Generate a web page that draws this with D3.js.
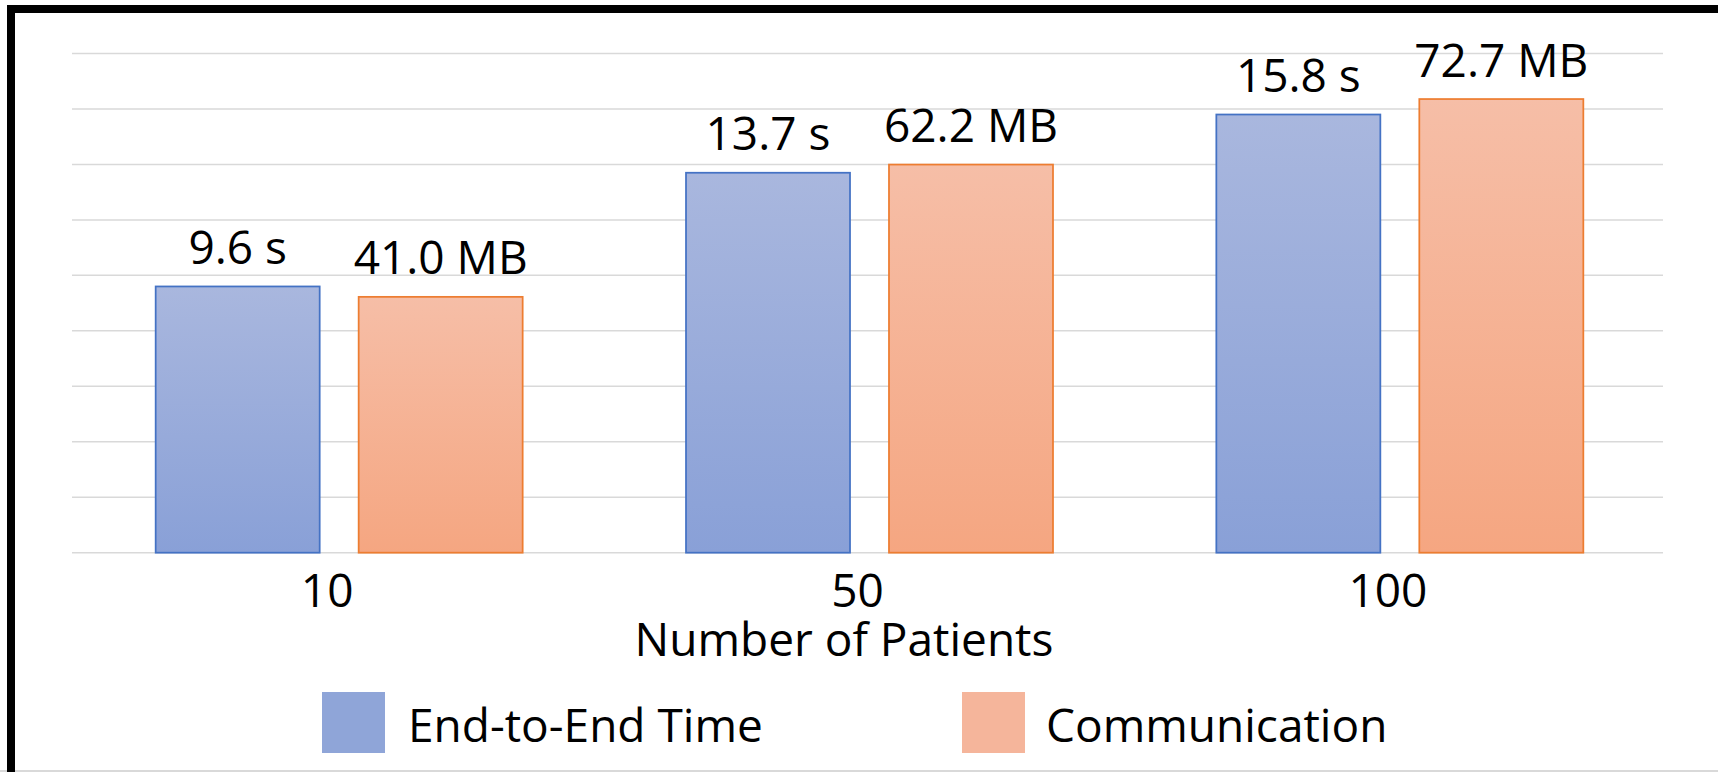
<!DOCTYPE html>
<html>
<head>
<meta charset="utf-8">
<script src="https://cdn.jsdelivr.net/npm/d3@7"></script>
<style>
  body { margin: 0; background: #fff; }
  text { font-family: "Open Sans", "Noto Sans", sans-serif; fill: #000; }
</style>
</head>
<body>
<div id="chart"></div>
<script>
// grouped bars, time on one axis and traffic on a hidden second axis
var categories = ["10", "50", "100"];
var seriesNames = ["End-to-End Time", "Communication"];
var timeValues = [9.6, 13.7, 15.8];     // seconds
var commValues = [41.0, 62.2, 72.7];    // MB
var gridTicks = [0, 2, 4, 6, 8, 10, 12, 14, 16, 18];

var width = 1718,
    height = 772,
    plotLeft = 72,
    plotRight = 1663,
    plotTop = 53.5,
    plotBottom = 552.7;

var svg = d3.select("#chart").append("svg")
    .attr("width", width)
    .attr("height", height);

// gradients, lighter at the top like the office fill
var defs = svg.append("defs");
function gradient(id, top, bottom) {
    var g = defs.append("linearGradient")
        .attr("id", id)
        .attr("x1", 0).attr("y1", 0)
        .attr("x2", 0).attr("y2", 1);
    g.append("stop").attr("offset", "0%").attr("stop-color", top);
    g.append("stop").attr("offset", "100%").attr("stop-color", bottom);
}
gradient("gradBlue", "#a9b7de", "#89a0d7");
gradient("gradOrange", "#f6bea7", "#f5a681");

// bars sit a touch right of the gridline span in the original
var xGroup = d3.scaleBand()
    .domain(categories)
    .range([plotLeft + 2, plotRight + 2])
    .paddingInner(0.308)
    .paddingOuter(0.154);

var xSeries = d3.scaleBand()
    .domain(seriesNames)
    .range([0, xGroup.bandwidth()])
    .paddingInner(0.192);

var yTime = d3.scaleLinear().domain([0, 18]).range([plotBottom, plotTop]);
var yComm = d3.scaleLinear().domain([0, 80]).range([plotBottom, plotTop]);

// gridlines
svg.append("g")
    .selectAll("line")
    .data(gridTicks)
    .enter()
    .append("line")
    .attr("x1", plotLeft)
    .attr("x2", plotRight)
    .attr("y1", d => yTime(d))
    .attr("y2", d => yTime(d))
    .style("stroke", "#d9d9d9")
    .style("stroke-width", 1.5);

var fmt = d3.format(".1f");

var series = [
    { name: seriesNames[0], values: timeValues, y: yTime, fill: "url(#gradBlue)", stroke: "#4472c4", unit: " s" },
    { name: seriesNames[1], values: commValues, y: yComm, fill: "url(#gradOrange)", stroke: "#ed7d31", unit: " MB" }
];

series.forEach(function(s) {
    var g = svg.append("g");

    g.selectAll("rect")
        .data(s.values)
        .enter()
        .append("rect")
        .attr("x", (d, i) => xGroup(categories[i]) + xSeries(s.name))
        .attr("y", d => s.y(d))
        .attr("width", xSeries.bandwidth())
        .attr("height", d => s.y(0) - s.y(d))
        .style("fill", s.fill)
        .style("stroke", s.stroke)
        .style("stroke-width", 1.75);

    g.selectAll("text")
        .data(s.values)
        .enter()
        .append("text")
        .attr("x", (d, i) => xGroup(categories[i]) + xSeries(s.name) + xSeries.bandwidth() / 2)
        .attr("y", d => s.y(d) - 22.5)
        .attr("text-anchor", "middle")
        .style("font-size", "46px")
        .text(d => fmt(d) + s.unit);
});

// category axis
var xAxis = svg.append("g")
    .attr("transform", "translate(-12," + plotBottom + ")")
    .call(d3.axisBottom(xGroup).tickSize(0).tickPadding(22));
xAxis.select(".domain").remove();
xAxis.selectAll("text")
    .style("font-size", "46px")
    .style("font-family", "'Open Sans', sans-serif")
    .style("fill", "#000");

svg.append("text")
    .attr("x", 844)
    .attr("y", 656)
    .attr("text-anchor", "middle")
    .style("font-size", "46px")
    .text("Number of Patients");

// legend
var legendX = [322, 962];
var legendColors = ["#8fa5d8", "#f5b59b"];
var legend = svg.append("g")
    .selectAll("g")
    .data(seriesNames)
    .enter()
    .append("g")
    .attr("transform", (d, i) => "translate(" + legendX[i] + ",692)");
legend.append("rect")
    .attr("width", 63)
    .attr("height", 61)
    .style("fill", (d, i) => legendColors[i]);
legend.append("text")
    .attr("x", (d, i) => i === 0 ? 86 : 84)
    .attr("y", 49.7)
    .style("font-size", "46px")
    .text(d => d);

// frame: thick black top/left, light line at the bottom
svg.append("line")
    .attr("x1", 0).attr("x2", width)
    .attr("y1", 771).attr("y2", 771)
    .style("stroke", "#d9d9d9")
    .style("stroke-width", 2);
svg.append("rect")
    .attr("x", 11)
    .attr("y", 9)
    .attr("width", width)
    .attr("height", height + 20)
    .style("fill", "none")
    .style("stroke", "#000")
    .style("stroke-width", 8);
</script>
</body>
</html>
